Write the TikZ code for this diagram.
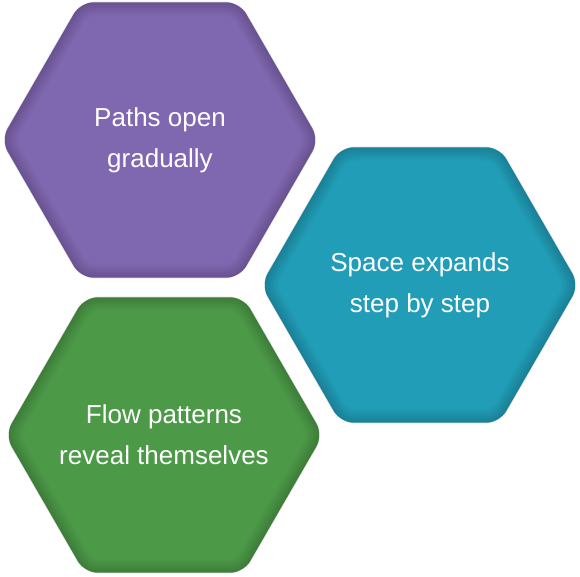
\documentclass[tikz,border=0pt]{standalone}
\usepackage{fontspec}
\setmainfont{Liberation Sans}
\usepackage{tikz}
\usetikzlibrary{shapes.geometric}

\definecolor{cellpurple}{HTML}{8068B0}
\definecolor{cellteal}{HTML}{219DB8}
\definecolor{cellgreen}{HTML}{4C9A48}

\tikzset{
  hexcell/.style={regular polygon, regular polygon sides=6,
                  minimum size=318pt, inner sep=0pt, rounded corners=13pt},
  hexrim/.style={regular polygon, regular polygon sides=6,
                 minimum size=#1, inner sep=0pt, rounded corners=12pt,
                 draw=black, draw opacity=0.025},
  celltext/.style={text=white, align=center,
                   font=\fontsize{26pt}{41pt}\selectfont},
}

\begin{document}
\begin{tikzpicture}
\useasboundingbox (0,0) rectangle (580pt,576pt);

% hexagons
\node[hexcell, fill=cellpurple] (paths) at (160pt,436pt) {};
\node[hexcell, fill=cellteal] (space) at (420pt,291pt) {};
\node[hexcell, fill=cellgreen] (flow) at (164pt,141pt) {};

% soft inner edges
\foreach \c in {paths, space, flow}
  \foreach \k in {1,...,7}
    \node[hexrim=318pt-2*\k pt, line width=2*\k pt] at (\c.center) {};

% texts
\node[celltext] (pathstext) at (paths.center) {Paths open\\gradually};
\node[celltext] (spacetext) at (space.center) {Space expands\\step by step};
\node[celltext] (flowtext) at (flow.center) {Flow patterns\\reveal themselves};
\end{tikzpicture}
\end{document}
